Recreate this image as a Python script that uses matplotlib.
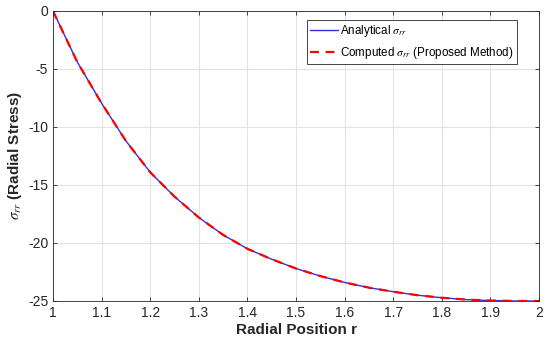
import matplotlib
matplotlib.use("Agg")
import matplotlib.pyplot as plt
import numpy as np

r = [1.0, 1.05, 1.1, 1.15, 1.2, 1.25, 1.3, 1.35, 1.4, 1.45, 1.5, 1.55, 1.6,
     1.65, 1.7, 1.75, 1.8, 1.85, 1.9, 1.95, 2.0]
sigma_analytical = [0.0, -4.4, -7.95, -11.2, -13.9, -16.0, -17.8, -19.3, -20.5,
                    -21.4, -22.2, -22.85, -23.4, -23.85, -24.2, -24.5, -24.72,
                    -24.88, -24.96, -25.0, -25.0]
sigma_computed = list(sigma_analytical)

xticks = [1, 1.1, 1.2, 1.3, 1.4, 1.5, 1.6, 1.7, 1.8, 1.9, 2]
xticklabels = ["1", "1.1", "1.2", "1.3", "1.4", "1.5", "1.6", "1.7", "1.8", "1.9", "2"]
yticks = [0, -5, -10, -15, -20, -25]
yticklabels = ["0", "-5", "-10", "-15", "-20", "-25"]

plt.rcParams['font.family'] = ['Liberation Sans', 'DejaVu Sans']
plt.rcParams['mathtext.fontset'] = 'stix'

fig = plt.figure(figsize=(5.5, 3.41), dpi=100)
ax = fig.add_axes([53/550, 1 - 301/341, 486/550, 290/341])

ax.plot(r, sigma_analytical, color='#3030e0', lw=1.0, label=r'Analytical $\sigma_{rr}$')
ax.plot(r, sigma_computed, color='red', lw=1.6, ls=(0, (4, 3)),
        label=r'Computed $\sigma_{rr}$ (Proposed Method)')

ax.set_xlim(1, 2)
ax.set_ylim(-25, 0)
ax.set_xticks(xticks)
ax.set_xticklabels(xticklabels)
ax.set_yticks(yticks)
ax.set_yticklabels(yticklabels)
ax.grid(True, color='#e3e3e3', lw=0.8)
ax.set_axisbelow(True)
ax.tick_params(direction='in', top=True, right=True, labelsize=10,
               colors='#262626', length=3, width=0.6)
for s in ax.spines.values():
    s.set_color('#262626')
    s.set_linewidth(0.6)

ax.set_xlabel('Radial Position r', fontsize=11, fontweight='bold', color='#262626', labelpad=2)
ax.set_ylabel(r'$\sigma_{rr}$ (Radial Stress)', fontsize=11, fontweight='bold',
              color='#262626', labelpad=3)

leg = ax.legend(loc='upper right', bbox_to_anchor=(0.955, 0.969), fontsize=8.4,
                frameon=True, fancybox=False, edgecolor='#262626', framealpha=1,
                handlelength=2.4, handletextpad=0.15, borderpad=0.3, labelspacing=0.45,
                borderaxespad=0.0)
leg.get_frame().set_linewidth(0.6)

fig.savefig('out.png', dpi=100)
